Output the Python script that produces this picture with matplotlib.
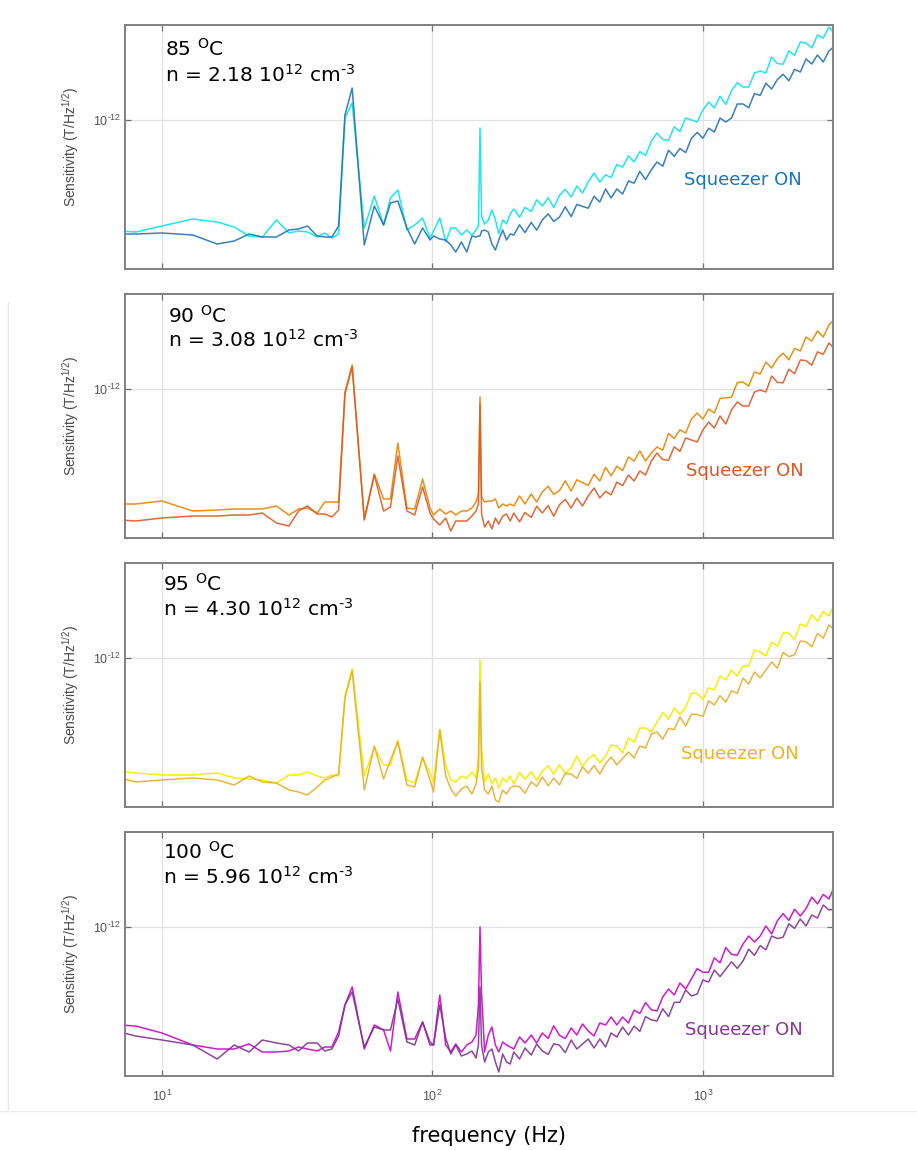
import numpy as np
import matplotlib
matplotlib.use("Agg")
import matplotlib.pyplot as plt
from matplotlib.ticker import NullLocator
from matplotlib.lines import Line2D

plt.rcParams['font.family'] = ['DejaVu Sans']
plt.rcParams['mathtext.fontset'] = 'dejavusans'

# frequency bins (Hz): sparse low-frequency part and dense high-frequency part
freq_low = [7.0, 8.0, 10.0, 13.0, 16.0, 18.5, 21.0, 23.5, 26.5, 29.5, 32.0, 34.5, 37.5, 40.0, 42.5,
            45.0, 47.5, 50.5, 56.0, 61.0, 66.0, 70.0, 74.5, 80.5, 86.0, 92.0, 98.0, 101.0, 106.5, 112.0,
            117.0, 122.0, 128.0, 134.0, 140.0, 145.0, 148.0, 150.0, 152.0, 156.0, 161.0, 166.0, 171.0,
            176.0, 182.0, 188.0, 194.0]
freq_high = [200, 210, 220, 232, 243, 255, 268, 281, 295, 310, 326, 342, 359, 377, 396, 416, 437, 458,
             481, 505, 531, 557, 585, 614, 645, 677, 711, 747, 784, 823, 864, 908, 953, 1001, 1051,
             1103, 1158, 1216, 1277, 1341, 1408, 1478, 1552, 1630, 1711, 1797, 1887, 1981, 2080, 2184,
             2294, 2408, 2529, 2655, 2788, 2927, 3074]

# log10 of sensitivity (T/Hz^1/2); "off" = squeezer off, "on" = squeezer on
lo85_off = [-12.555, -12.560, -12.530, -12.495, -12.510, -12.535, -12.580, -12.585, -12.500, -12.565,
            -12.555, -12.560, -12.585, -12.565, -12.590, -12.570, -11.990, -11.915, -12.540, -12.380,
            -12.525, -12.390, -12.350, -12.550, -12.525, -12.490, -12.590, -12.555, -12.490, -12.610,
            -12.540, -12.540, -12.575, -12.550, -12.575, -12.550, -12.530, -12.040, -12.480, -12.520,
            -12.500, -12.450, -12.500, -12.570, -12.500, -12.520, -12.470]
hi85_off = [-12.445, -12.486, -12.437, -12.458, -12.399, -12.430, -12.389, -12.438, -12.377, -12.346,
            -12.385, -12.330, -12.365, -12.310, -12.265, -12.310, -12.274, -12.288, -12.222, -12.236,
            -12.180, -12.209, -12.158, -12.177, -12.106, -12.065, -12.098, -12.101, -12.034, -12.057,
            -11.990, -12.000, -12.010, -11.950, -11.910, -11.940, -11.881, -11.922, -11.853, -11.814,
            -11.835, -11.835, -11.765, -11.755, -11.765, -11.685, -11.718, -11.721, -11.654, -11.677,
            -11.610, -11.615, -11.640, -11.575, -11.590, -11.535, -11.570]
lo85_on = [-12.570, -12.570, -12.565, -12.575, -12.620, -12.605, -12.570, -12.585, -12.585, -12.550,
           -12.545, -12.530, -12.580, -12.585, -12.585, -12.530, -11.975, -11.840, -12.625, -12.430,
           -12.525, -12.415, -12.405, -12.540, -12.620, -12.540, -12.600, -12.580, -12.595, -12.600,
           -12.625, -12.660, -12.610, -12.660, -12.580, -12.585, -12.580, -12.580, -12.555, -12.550,
           -12.560, -12.620, -12.650, -12.600, -12.550, -12.600, -12.570]
hi85_on = [-12.575, -12.524, -12.563, -12.512, -12.551, -12.500, -12.469, -12.507, -12.486, -12.434,
           -12.483, -12.422, -12.432, -12.441, -12.381, -12.410, -12.345, -12.390, -12.345, -12.370,
           -12.305, -12.316, -12.257, -12.298, -12.249, -12.210, -12.231, -12.151, -12.182, -12.142,
           -12.163, -12.092, -12.062, -12.091, -12.041, -12.060, -11.990, -12.010, -11.990, -11.920,
           -11.920, -11.939, -11.868, -11.877, -11.816, -11.845, -11.798, -11.771, -11.804, -11.747,
           -11.760, -11.695, -11.720, -11.675, -11.710, -11.655, -11.630]

lo90_off = [-12.575, -12.575, -12.560, -12.610, -12.605, -12.600, -12.600, -12.600, -12.585, -12.630,
            -12.600, -12.595, -12.620, -12.565, -12.565, -12.565, -12.015, -11.880, -12.650, -12.425,
            -12.550, -12.550, -12.270, -12.595, -12.600, -12.450, -12.595, -12.630, -12.600, -12.625,
            -12.610, -12.630, -12.610, -12.610, -12.595, -12.565, -12.525, -12.040, -12.540, -12.565,
            -12.560, -12.560, -12.550, -12.595, -12.575, -12.585, -12.575]
hi90_off = [-12.585, -12.535, -12.575, -12.525, -12.565, -12.515, -12.486, -12.527, -12.508, -12.459,
            -12.510, -12.454, -12.468, -12.482, -12.426, -12.460, -12.392, -12.434, -12.386, -12.408,
            -12.340, -12.360, -12.310, -12.360, -12.320, -12.290, -12.306, -12.222, -12.248, -12.204,
            -12.220, -12.150, -12.120, -12.150, -12.100, -12.120, -12.047, -12.044, -12.041, -11.968,
            -11.965, -11.985, -11.915, -11.925, -11.865, -11.895, -11.848, -11.821, -11.854, -11.797,
            -11.810, -11.740, -11.760, -11.710, -11.740, -11.680, -11.650]
lo90_on = [-12.655, -12.660, -12.645, -12.635, -12.635, -12.630, -12.630, -12.620, -12.670, -12.685,
           -12.610, -12.585, -12.625, -12.625, -12.640, -12.605, -12.025, -11.890, -12.655, -12.430,
           -12.610, -12.590, -12.335, -12.610, -12.630, -12.490, -12.620, -12.650, -12.680, -12.645,
           -12.710, -12.660, -12.660, -12.660, -12.635, -12.610, -12.575, -12.075, -12.625, -12.690,
           -12.660, -12.700, -12.645, -12.675, -12.635, -12.625, -12.660]
hi90_on = [-12.620, -12.664, -12.618, -12.642, -12.586, -12.620, -12.583, -12.636, -12.579, -12.552,
           -12.595, -12.545, -12.585, -12.535, -12.495, -12.545, -12.512, -12.529, -12.466, -12.483,
           -12.430, -12.460, -12.410, -12.430, -12.360, -12.320, -12.353, -12.356, -12.289, -12.312,
           -12.245, -12.255, -12.265, -12.205, -12.165, -12.195, -12.135, -12.175, -12.105, -12.065,
           -12.085, -12.085, -12.015, -12.005, -12.015, -11.935, -11.967, -11.969, -11.901, -11.923,
           -11.855, -11.858, -11.881, -11.814, -11.827, -11.770, -11.800]

lo95_off = [-12.567, -12.575, -12.585, -12.585, -12.575, -12.600, -12.605, -12.610, -12.625, -12.585,
            -12.585, -12.570, -12.590, -12.600, -12.585, -12.590, -12.190, -12.055, -12.590, -12.445,
            -12.535, -12.535, -12.410, -12.610, -12.625, -12.500, -12.575, -12.620, -12.355, -12.535,
            -12.610, -12.620, -12.590, -12.600, -12.570, -12.600, -12.500, -12.010, -12.450, -12.620,
            -12.580, -12.630, -12.600, -12.650, -12.600, -12.620, -12.590]
hi95_off = [-12.630, -12.573, -12.606, -12.569, -12.612, -12.565, -12.538, -12.581, -12.534, -12.577,
            -12.550, -12.491, -12.542, -12.503, -12.484, -12.525, -12.490, -12.435, -12.440, -12.475,
            -12.400, -12.420, -12.350, -12.350, -12.370, -12.320, -12.273, -12.306, -12.249, -12.282,
            -12.245, -12.176, -12.177, -12.208, -12.149, -12.160, -12.090, -12.110, -12.060, -12.090,
            -12.040, -12.040, -11.960, -11.970, -11.990, -11.920, -11.942, -11.874, -11.876, -11.908,
            -11.830, -11.842, -11.784, -11.816, -11.768, -11.790, -11.725]
lo95_on = [-12.600, -12.620, -12.610, -12.600, -12.610, -12.635, -12.590, -12.620, -12.625, -12.660,
           -12.670, -12.685, -12.645, -12.610, -12.595, -12.580, -12.200, -12.065, -12.660, -12.440,
           -12.605, -12.510, -12.420, -12.635, -12.645, -12.495, -12.610, -12.670, -12.360, -12.590,
           -12.655, -12.690, -12.655, -12.640, -12.680, -12.630, -12.550, -12.120, -12.550, -12.660,
           -12.680, -12.640, -12.710, -12.720, -12.660, -12.680, -12.650]
hi95_on = [-12.640, -12.643, -12.676, -12.619, -12.642, -12.595, -12.638, -12.601, -12.634, -12.577,
           -12.580, -12.602, -12.544, -12.576, -12.538, -12.580, -12.528, -12.496, -12.534, -12.502,
           -12.470, -12.500, -12.440, -12.450, -12.380, -12.370, -12.406, -12.352, -12.358, -12.294,
           -12.340, -12.281, -12.282, -12.293, -12.214, -12.235, -12.188, -12.221, -12.164, -12.177,
           -12.100, -12.130, -12.070, -12.100, -12.060, -12.020, -12.051, -11.972, -11.993, -11.984,
           -11.915, -11.919, -11.943, -11.877, -11.901, -11.835, -11.860]

lo100_off = [-12.490, -12.495, -12.530, -12.590, -12.610, -12.610, -12.585, -12.625, -12.625, -12.620,
             -12.600, -12.610, -12.620, -12.600, -12.600, -12.525, -12.390, -12.300, -12.610, -12.490,
             -12.515, -12.620, -12.325, -12.560, -12.560, -12.475, -12.590, -12.590, -12.340, -12.590,
             -12.625, -12.585, -12.625, -12.590, -12.575, -12.540, -12.390, -12.000, -12.330, -12.625,
             -12.540, -12.500, -12.590, -12.625, -12.575, -12.590, -12.600]
hi100_off = [-12.610, -12.550, -12.580, -12.540, -12.580, -12.530, -12.557, -12.494, -12.541, -12.558,
             -12.505, -12.540, -12.485, -12.520, -12.545, -12.480, -12.490, -12.450, -12.490, -12.450,
             -12.480, -12.416, -12.432, -12.378, -12.414, -12.420, -12.350, -12.310, -12.340, -12.280,
             -12.310, -12.259, -12.208, -12.227, -12.226, -12.155, -12.179, -12.103, -12.137, -12.141,
             -12.085, -12.045, -12.075, -12.045, -11.995, -12.035, -11.969, -11.933, -11.967, -11.911,
             -11.945, -11.908, -11.851, -11.884, -11.837, -11.860, -11.795]
lo100_on = [-12.525, -12.545, -12.565, -12.590, -12.660, -12.590, -12.625, -12.565, -12.580, -12.590,
            -12.620, -12.580, -12.580, -12.620, -12.610, -12.545, -12.390, -12.325, -12.600, -12.500,
            -12.515, -12.515, -12.360, -12.575, -12.590, -12.475, -12.575, -12.590, -12.390, -12.555,
            -12.635, -12.590, -12.645, -12.635, -12.620, -12.655, -12.590, -12.300, -12.590, -12.675,
            -12.625, -12.610, -12.675, -12.725, -12.635, -12.675, -12.685]
hi100_on = [-12.625, -12.660, -12.605, -12.640, -12.585, -12.620, -12.637, -12.584, -12.591, -12.628,
            -12.565, -12.610, -12.585, -12.560, -12.605, -12.560, -12.600, -12.530, -12.550, -12.500,
            -12.540, -12.496, -12.522, -12.448, -12.464, -12.470, -12.409, -12.448, -12.377, -12.376,
            -12.315, -12.345, -12.335, -12.265, -12.275, -12.215, -12.248, -12.211, -12.174, -12.207,
            -12.170, -12.111, -12.142, -12.093, -12.114, -12.045, -12.058, -12.051, -11.984, -12.007,
            -11.960, -11.995, -11.940, -11.955, -11.890, -11.915, -11.910]

temps = ["85", "90", "95", "100"]
densities = ["2.18", "3.08", "4.30", "5.96"]
traces_off = [(lo85_off, hi85_off), (lo90_off, hi90_off), (lo95_off, hi95_off), (lo100_off, hi100_off)]
traces_on = [(lo85_on, hi85_on), (lo90_on, hi90_on), (lo95_on, hi95_on), (lo100_on, hi100_on)]

colors_off = ["#1fe6f0", "#e8901a", "#f5ee05", "#cf1acf"]
colors_on = ["#2272b4", "#dc5a24", "#e8ad2a", "#80338f"]
colors_txt = ["#1776c0", "#dd5524", "#eeb12a", "#86389a"]

# pixel layout of the four stacked axes
W, H = 917, 1150
tops = [25, 294, 563, 832]
label_x = [0.0565, 0.061, 0.054, 0.054]
line1_y = [0.874, 0.884, 0.888, 0.891]
line2_y = [0.768, 0.782, 0.782, 0.788]
squeeze_pos = [(0.790, 0.344), (0.793, 0.255), (0.786, 0.195), (0.791, 0.168)]

freq = np.array(freq_low + freq_high)

fig = plt.figure(figsize=(W / 100, H / 100), dpi=100)

for k in range(4):
    ax = fig.add_axes([125 / W, 1 - (tops[k] + 244) / H, 708 / W, 244 / H])
    off = np.array(traces_off[k][0] + traces_off[k][1])
    on = np.array(traces_on[k][0] + traces_on[k][1])
    ax.plot(freq, 10.0 ** off, color=colors_off[k], lw=1.1)
    ax.plot(freq, 10.0 ** on, color=colors_on[k], lw=1.1, alpha=0.9)

    ax.set_xscale('log')
    ax.set_yscale('log')
    ax.set_xlim(7.3, 3030)
    ax.set_ylim(10 ** -12.745, 10 ** -11.525)

    ax.set_xticks([10, 100, 1000])
    ax.set_yticks([1e-12])
    ax.xaxis.set_minor_locator(NullLocator())
    ax.yaxis.set_minor_locator(NullLocator())
    ax.set_yticklabels([r'$\mathregular{10^{‐12}}$'])
    if k == 3:
        ax.set_xticklabels([r'$\mathregular{10^{1}}$', r'$\mathregular{10^{2}}$', r'$\mathregular{10^{3}}$'])
    else:
        ax.set_xticklabels([])
    ax.tick_params(which='both', direction='in', top=True, right=True, length=4, width=0.9,
                   color='#707070', labelsize=9, labelcolor='#555555')
    ax.tick_params(axis='x', pad=9)
    ax.tick_params(axis='y', pad=3)
    for lab in ax.get_xticklabels() + ax.get_yticklabels():
        lab.set_fontfamily('Liberation Sans')

    ax.grid(True, which='major', color='#e2e2e2', lw=0.9)
    ax.set_axisbelow(True)
    for s in ax.spines.values():
        s.set_color('#808080')
        s.set_linewidth(1.4)

    ax.set_ylabel('Sensitivity (T/Hz$\\mathregular{^{1/2}}$)', fontsize=10, color='#4a4a4a',
                  fontfamily='Liberation Sans')
    ax.yaxis.set_label_coords(-0.062, 0.5)

    ax.text(label_x[k], line1_y[k], temps[k] + r' $^{\mathrm{O}}$C', transform=ax.transAxes,
            fontsize=14.5, va='baseline')
    ax.text(label_x[k], line2_y[k], 'n = ' + densities[k] + r' 10$^{12}$ cm$^{‐3}$',
            transform=ax.transAxes, fontsize=14.5, va='baseline')
    ax.text(squeeze_pos[k][0], squeeze_pos[k][1], 'Squeezer ON', color=colors_txt[k],
            transform=ax.transAxes, fontsize=13, va='baseline')

fig.text(489 / W, 1 - 1142 / H, 'frequency (Hz)', ha='center', va='baseline', fontsize=15)

# faint frame lines around the stacked panels
fig.add_artist(Line2D([8 / W, 8 / W], [1 - 303 / H, 1 - 1111 / H], color='#e8e8e8', lw=1.0,
                      transform=fig.transFigure))
fig.add_artist(Line2D([0, 1], [1 - 1111 / H, 1 - 1111 / H], color='#ececec', lw=1.0,
                      transform=fig.transFigure))

fig.savefig('out.png', dpi=100)
